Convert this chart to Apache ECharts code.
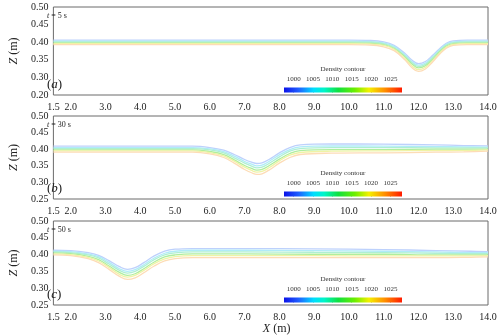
<!DOCTYPE html>
<html>
<head>
<meta charset="utf-8">
<script src="https://cdn.jsdelivr.net/npm/echarts@6/dist/echarts.min.js"></script>
<style>
  html, body { margin: 0; padding: 0; background: #fff; }
  #chart { width: 500px; height: 336px; }
</style>
</head>
<body>
<div id="chart"></div>
<script>
  // (a) t = 5 s : isopycnals, top (light) to bottom (dense)
  var xA = [1.5, 4, 7, 10, 10.6, 11.0, 11.3, 11.6, 11.8, 12.0, 12.2, 12.4, 12.6, 12.8, 13.0, 13.4, 14.0];
  var zA1 = [.406,.406,.406,.406,.405,.401,.391,.369,.350,.339,.345,.362,.381,.397,.404,.406,.406];
  var zA2 = [.403,.403,.403,.403,.402,.398,.388,.365,.346,.335,.341,.358,.378,.394,.401,.403,.403];
  var zA3 = [.401,.401,.401,.401,.400,.396,.385,.362,.343,.331,.337,.355,.375,.392,.399,.401,.401];
  var zA4 = [.398,.398,.398,.398,.397,.393,.382,.359,.339,.327,.333,.351,.372,.389,.396,.398,.398];
  var zA5 = [.396,.396,.396,.396,.395,.391,.380,.355,.334,.322,.329,.347,.368,.386,.394,.396,.396];
  var zA6 = [.393,.393,.393,.393,.392,.387,.376,.351,.329,.317,.324,.343,.365,.383,.391,.393,.393];

  // (b) t = 30 s
  var xB = [1.5, 4, 5.5, 6.0, 6.4, 6.7, 7.0, 7.2, 7.35, 7.5, 7.7, 8.0, 8.3, 8.6, 9.5, 11, 12.5, 13.3, 14.0];
  var zB1 = [.409,.409,.409,.405,.397,.384,.369,.361,.357,.359,.369,.389,.405,.413,.416,.415,.413,.411,.410];
  var zB2 = [.405,.405,.405,.401,.393,.379,.363,.355,.350,.352,.363,.383,.399,.407,.410,.409,.408,.407,.406];
  var zB3 = [.402,.402,.402,.398,.389,.374,.358,.349,.344,.346,.357,.377,.394,.402,.405,.405,.404,.404,.404];
  var zB4 = [.398,.398,.398,.393,.384,.368,.351,.342,.337,.339,.350,.370,.387,.396,.399,.399,.400,.400,.400];
  var zB5 = [.395,.395,.395,.390,.380,.364,.346,.336,.331,.333,.344,.365,.382,.390,.394,.395,.396,.396,.398];
  var zB6 = [.391,.391,.391,.386,.375,.358,.339,.329,.324,.326,.337,.358,.375,.384,.388,.389,.391,.392,.394];

  // (c) t = 50 s
  var xC = [1.5, 2.0, 2.5, 2.8, 3.1, 3.4, 3.63, 3.85, 4.1, 4.4, 4.7, 5.0, 5.5, 7, 9, 11, 12.5, 13.5, 14.0];
  var zC1 = [.413,.412,.406,.398,.382,.364,.356,.361,.376,.396,.410,.416,.418,.418,.417,.415,.412,.410,.409];
  var zC2 = [.410,.409,.402,.394,.377,.358,.350,.355,.370,.390,.404,.410,.413,.413,.412,.410,.408,.406,.406];
  var zC3 = [.408,.406,.399,.390,.372,.353,.345,.350,.365,.385,.399,.405,.408,.408,.407,.406,.404,.403,.403];
  var zC4 = [.405,.403,.395,.385,.366,.347,.338,.343,.358,.378,.393,.399,.402,.402,.401,.401,.399,.399,.399];
  var zC5 = [.402,.400,.392,.381,.362,.341,.333,.338,.353,.373,.387,.394,.397,.397,.397,.396,.396,.396,.397];
  var zC6 = [.399,.397,.388,.376,.356,.335,.326,.331,.346,.366,.381,.388,.391,.391,.391,.391,.391,.392,.393];

  var yTextA = ['0.20', '0.30', '0.35', '0.40', '0.45', '0.50'];
  var yTextBC = ['0.25', '0.30', '0.35', '0.40', '0.45', '0.50'];
  var cbTicks = [1000, 1005, 1010, 1015, 1020, 1025];
  var cbRange = [997.5, 1028];
  var times = ['5', '30', '50'];
  var tags = ['a', 'b', 'c'];

  var lineColors = ['#bdd1fc', '#b0ebf8', '#afefd2', '#aeee9f', '#eff3a6', '#fddcb6'];
  var font = 'Liberation Serif';

  var panels = [
    { x: xA, lines: [zA1, zA2, zA3, zA4, zA5, zA6], yText: yTextA, top: 7, height: 88 },
    { x: xB, lines: [zB1, zB2, zB3, zB4, zB5, zB6], yText: yTextBC, top: 116, height: 83 },
    { x: xC, lines: [zC1, zC2, zC3, zC4, zC5, zC6], yText: yTextBC, top: 221, height: 84 }
  ];

  var grid = [], xAxis = [], yAxis = [], series = [], graphic = [];

  panels.forEach(function (p, k) {
    grid.push({
      left: 41, top: p.top, width: 447, height: p.height,
      show: true, borderColor: '#6b6b6b', borderWidth: 1
    });
    xAxis.push({
      type: 'value', gridIndex: k, min: 1.5, max: 14, interval: 0.5,
      axisLine: { show: false }, axisTick: { show: false }, splitLine: { show: false },
      axisLabel: {
        fontFamily: font, fontSize: 10, color: '#222', margin: 7,
        formatter: function (v) { return (v === 1.5 || v % 1 === 0) ? v.toFixed(1) : ''; }
      },
      name: k === 2 ? '{i|X} (m)' : '',
      nameLocation: 'middle', nameGap: 17,
      nameTextStyle: {
        fontFamily: font, fontSize: 12, color: '#222', padding: [0, 0, 0, 12],
        rich: { i: { fontFamily: font, fontSize: 12, fontStyle: 'italic', color: '#222' } }
      }
    });
    yAxis.push({
      type: 'value', gridIndex: k, min: 0.25, max: 0.5, interval: 0.05,
      axisLine: { show: false }, axisTick: { show: false }, splitLine: { show: false },
      axisLabel: {
        fontFamily: font, fontSize: 10, color: '#222', margin: 5,
        formatter: (function (txt) {
          return function (v) { return txt[Math.round((v - 0.25) / 0.05)]; };
        })(p.yText)
      },
      name: '{i|Z} (m)', nameLocation: 'middle', nameRotate: 90, nameGap: 24,
      nameTextStyle: {
        fontFamily: font, fontSize: 12, color: '#222',
        rich: { i: { fontFamily: font, fontSize: 12, fontStyle: 'italic', color: '#222' } }
      }
    });
    p.lines.forEach(function (z, j) {
      series.push({
        type: 'line', xAxisIndex: k, yAxisIndex: k,
        data: p.x.map(function (x, i) { return [x, z[i]]; }),
        showSymbol: false, smooth: 0.4, silent: true,
        lineStyle: { width: 1.3, color: lineColors[j] }
      });
    });
    graphic.push({
      type: 'text', left: 47, top: p.top + 5, z: 100,
      style: {
        text: '{i|t} = ' + times[k] + ' s', fontFamily: font, fontSize: 8, fill: '#222',
        rich: { i: { fontFamily: font, fontSize: 8, fontStyle: 'italic', fill: '#222' } }
      }
    });
    graphic.push({
      type: 'text', left: 47, top: p.top + p.height - 17, z: 100,
      style: {
        text: '({i|' + tags[k] + '})', fontFamily: font, fontSize: 13, fill: '#222',
        rich: { i: { fontFamily: font, fontSize: 13, fontStyle: 'italic', fill: '#222' } }
      }
    });
  });

  // density colour bars, one per panel
  var jet = new echarts.graphic.LinearGradient(0, 0, 1, 0, [
    { offset: 0, color: '#0b12e8' },
    { offset: 0.12, color: '#1f5cff' },
    { offset: 0.25, color: '#00dcff' },
    { offset: 0.34, color: '#00f5c8' },
    { offset: 0.46, color: '#10e040' },
    { offset: 0.6, color: '#6cee00' },
    { offset: 0.72, color: '#f4f000' },
    { offset: 0.86, color: '#ff8a00' },
    { offset: 1, color: '#ff1a00' }
  ]);
  panels.forEach(function (p, k) {
    var gi = 3 + k;
    grid.push({ left: 284, top: p.top + p.height - 7.5, width: 118, height: 5 });
    xAxis.push({
      type: 'value', gridIndex: gi, position: 'top', min: cbRange[0], max: cbRange[1],
      axisLine: { show: false }, splitLine: { show: false },
      axisTick: { show: true, customValues: cbTicks, length: 4, lineStyle: { color: '#777', width: 0.8 } },
      axisLabel: {
        customValues: cbTicks, fontFamily: font, fontSize: 7, color: '#333', margin: 5,
        formatter: function (v) { return String(v); }
      },
      name: 'Density contour', nameLocation: 'middle', nameGap: 15,
      nameTextStyle: { fontFamily: font, fontSize: 7, color: '#333' }
    });
    yAxis.push({ type: 'value', gridIndex: gi, min: 0, max: 1, show: false });
    series.push({
      type: 'line', xAxisIndex: gi, yAxisIndex: gi, data: [[cbRange[0], 0]],
      showSymbol: false, silent: true, lineStyle: { opacity: 0 },
      markArea: {
        silent: true,
        itemStyle: { color: jet },
        data: [[{ xAxis: cbRange[0], yAxis: 0 }, { xAxis: cbRange[1], yAxis: 1 }]]
      }
    });
  });

  var myChart = echarts.init(document.getElementById('chart'));
  myChart.setOption({
    animation: false,
    backgroundColor: '#fff',
    grid: grid,
    xAxis: xAxis,
    yAxis: yAxis,
    series: series,
    graphic: graphic
  });
</script>
</body>
</html>
